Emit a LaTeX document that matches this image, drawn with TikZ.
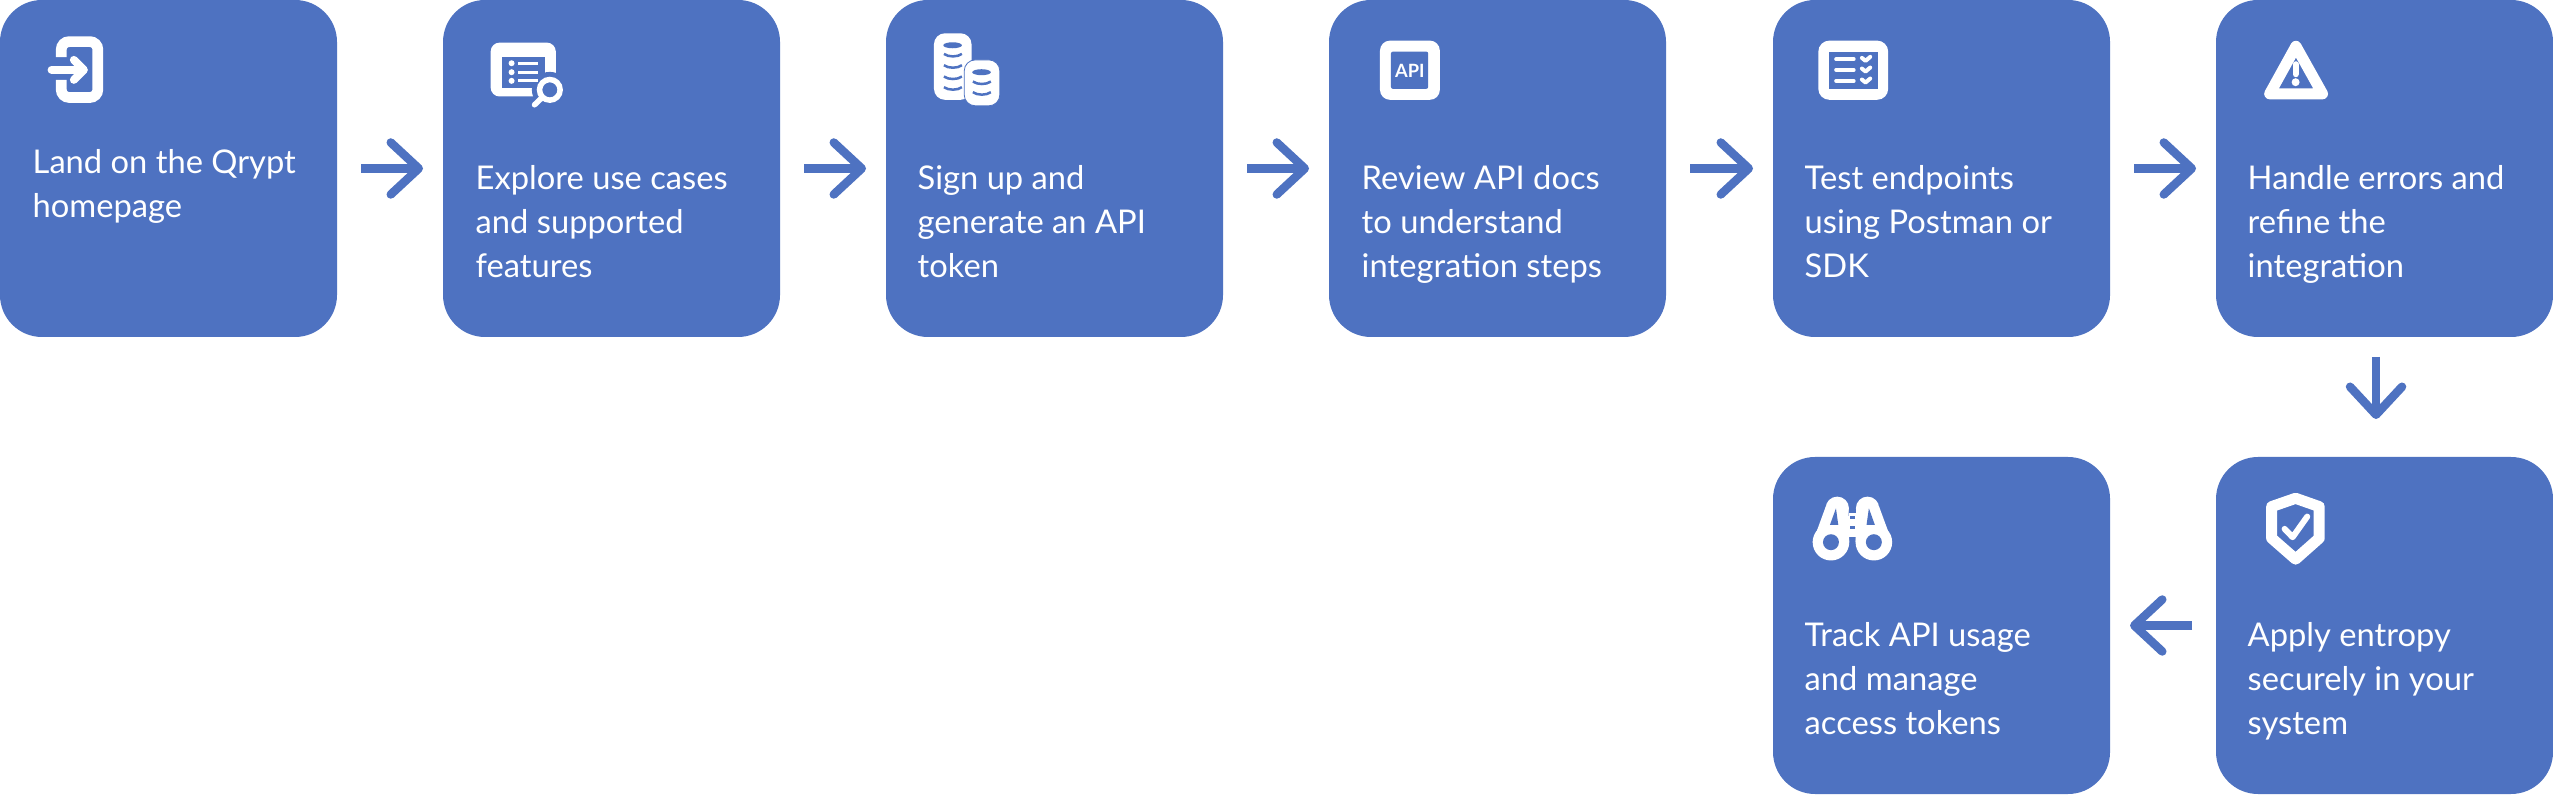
\documentclass[tikz,border=0pt]{standalone}
\usepackage{fontspec}
\setmainfont{Lato}
\usetikzlibrary{arrows.meta, positioning}
\definecolor{stepblue}{HTML}{4E72C1}

\tikzset{
  stepbox/.style={fill=stepblue, rounded corners=.42cm, minimum size=3.37cm, inner sep=0pt, outer sep=0pt},
  steptext/.style={text=white, anchor=north west, align=left, inner sep=0pt,
    font=\fontsize{9.3}{12.5}\selectfont, execute at begin node=\strut},
  flowarrow/.style={stepblue, line width=.085cm, shorten <=.24cm, shorten >=.20cm,
    -{Straight Barb[length=.28cm, width=.52cm, round]}},
  iconbox/.style={x=.00333cm, y=-.00333cm},
  iconline/.style={white, line cap=round, line join=round},
}

\begin{document}
\begin{tikzpicture}

% Background
\fill[white] (0,0) rectangle (25.53,7.94);
\useasboundingbox (0,0) rectangle (25.53,7.94);

% Top row of steps
\node[stepbox] (land)    at (1.685,6.255) {};
\node[stepbox] (explore) at (6.115,6.255) {};
\node[stepbox] (signup)  at (10.545,6.255) {};
\node[stepbox] (review)  at (14.975,6.255) {};
\node[stepbox] (endpoints) at (19.415,6.255) {};
\node[stepbox] (handle)  at (23.845,6.255) {};

% Bottom row of steps
\node[stepbox] (apply) at (23.845,1.685) {};
\node[stepbox] (track) at (19.415,1.685) {};

% Step texts
\node[steptext] (land text)    at (0.32,6.45) {Land on the Qrypt\\homepage};
\node[steptext] (explore text) at (4.75,6.29) {Explore use cases\\and supported\\features};
\node[steptext] (signup text)  at (9.17,6.29) {Sign up and\\generate an API\\token};
\node[steptext] (review text)  at (13.61,6.29) {Review API docs\\to understand\\integration steps};
\node[steptext] (endpoints text) at (18.04,6.29) {Test endpoints\\using Postman or\\SDK};
\node[steptext] (handle text)  at (22.47,6.29) {Handle errors and\\refine the\\integration};
\node[steptext] (apply text)   at (22.47,1.72) {Apply entropy\\securely in your\\system};
\node[steptext] (track text)   at (18.04,1.72) {Track API usage\\and manage\\access tokens};

% Arrows between steps
\draw[flowarrow] (land) -- (explore);
\draw[flowarrow] (explore) -- (signup);
\draw[flowarrow] (signup) -- (review);
\draw[flowarrow] (review) -- (endpoints);
\draw[flowarrow] (endpoints) -- (handle);
\draw[flowarrow, shorten <=.20cm, shorten >=.38cm] ([xshift=-.085cm]handle.south) -- ([xshift=-.085cm]apply.north);
\draw[flowarrow] (apply) -- (track);

% Icon: door with arrow
\begin{scope}[shift={(0.20,7.74)}, iconbox]
  \draw[white, line width=.107cm, rounded corners=.08cm]
    (124,112) -- (124,65) -- (234,65) -- (234,233) -- (124,233) -- (124,180);
  \draw[iconline, line width=.08cm] (95,150) -- (190,150);
  \draw[iconline, line width=.08cm] (162,120) -- (192,150) -- (162,180);
\end{scope}

% Icon: list window with magnifier
\begin{scope}[shift={(4.70,7.74)}, iconbox]
  \fill[white, rounded corners=.09cm] (62,68) rectangle (258,230);
  \fill[stepblue] (95,110) rectangle (225,205);
  \fill[stepblue] (240,210) circle (54);
  \foreach \rowy in {130,157,183} {
    \fill[white] (125,\rowy) circle (9);
    \draw[white, line width=.03cm] (145,\rowy) -- (205,\rowy);
  }
  \draw[white, line width=.055cm] (240,210) circle (31);
  \draw[iconline, line width=.055cm] (214,236) -- (194,255);
\end{scope}

% Icon: stacks of coins
\begin{scope}[shift={(9.10,7.74)}, iconbox]
  \fill[white, rounded corners=.11cm] (72,40) rectangle (185,240);
  \fill[stepblue] (128,76) ellipse (28 and 9);
  \foreach \rowy in {102,136,170,202} {
    \draw[stepblue, line width=.025cm] (102,\rowy) .. controls (115,\rowy+10) and (143,\rowy+10) .. (156,\rowy);
  }
  \filldraw[white, draw=stepblue, line width=.008cm, rounded corners=.11cm] (163,120) rectangle (270,258);
  \fill[stepblue] (215,157) ellipse (28 and 9);
  \foreach \rowy in {185,217} {
    \draw[stepblue, line width=.025cm] (189,\rowy) .. controls (202,\rowy+10) and (230,\rowy+10) .. (243,\rowy);
  }
\end{scope}

% Icon: API badge
\begin{scope}[shift={(13.60,7.74)}, iconbox]
  \fill[white, rounded corners=.10cm] (60,62) rectangle (240,240);
  \fill[stepblue, rounded corners=.02cm] (93,95) rectangle (205,207);
  \node[text=white, inner sep=0pt, font=\fontsize{5.2}{6}\selectfont\bfseries] (api label) at (150,152) {API};
\end{scope}

% Icon: checklist
\begin{scope}[shift={(18.00,7.74)}, iconbox]
  \fill[white, rounded corners=.11cm] (55,62) rectangle (265,240);
  \fill[stepblue] (87,95) rectangle (233,207);
  \foreach \rowy in {118,150,183} {
    \draw[iconline, line width=.035cm] (108,\rowy) -- (162,\rowy);
    \draw[iconline, line width=.04cm] (186,\rowy-4) -- (197,\rowy+5) -- (211,\rowy-7);
  }
\end{scope}

% Icon: warning triangle
\begin{scope}[shift={(22.50,7.74)}, iconbox]
  \draw[iconline, line width=.11cm] (138,79) -- (218,222) -- (59,222) -- cycle;
  \draw[iconline, line width=.06cm] (137,133) -- (137,163);
  \fill[white] (137,187) circle (12);
\end{scope}

% Icon: shield with check
\begin{scope}[shift={(22.50,3.14)}, iconbox]
  \draw[white, line width=.11cm, line join=round]
    (137,55) -- (208,80) -- (208,175) -- (137,238) -- (65,175) -- (65,80) -- cycle;
  \draw[iconline, line width=.06cm] (104,147) -- (128,172) -- (172,110);
\end{scope}

% Icon: binoculars
\begin{scope}[shift={(18.00,3.14)}, iconbox]
  \fill[white] (93,187) circle (55);
  \fill[white] (222,187) circle (55);
  \fill[white] (112,85) circle (35);
  \fill[white] (203,85) circle (35);
  \fill[white] (38,187) -- (78,78) -- (146,85) -- (148,187) -- cycle;
  \fill[white] (277,187) -- (237,78) -- (169,85) -- (167,187) -- cycle;
  \fill[white] (148,100) rectangle (167,170);
  \fill[stepblue] (93,187) circle (24);
  \fill[stepblue] (222,187) circle (24);
  \fill[stepblue] (108,85) -- (90,135) -- (115,135) -- cycle;
  \fill[stepblue] (207,85) -- (225,135) -- (200,135) -- cycle;
  \fill[stepblue] (150,108) rectangle (165,118);
  \fill[stepblue] (150,138) rectangle (165,147);
\end{scope}

\end{tikzpicture}
\end{document}
